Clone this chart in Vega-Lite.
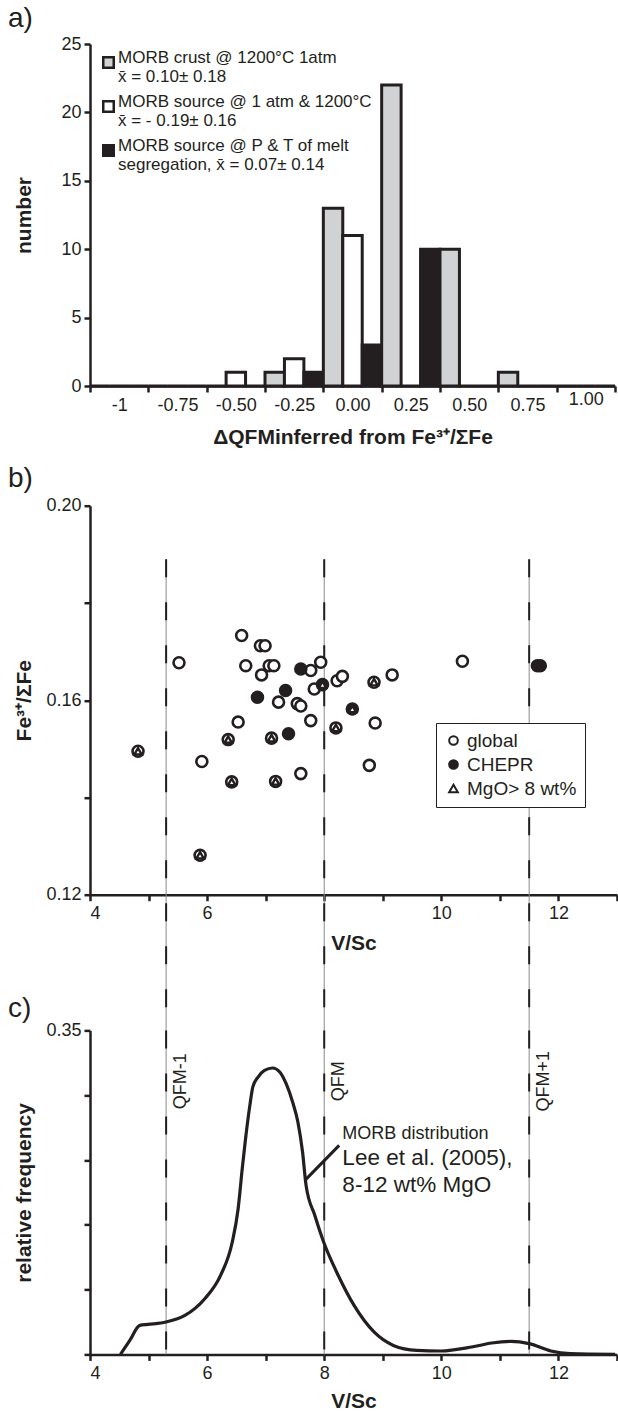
{
  "$schema": "https://vega.github.io/schema/vega-lite/v6.json",
  "autosize": {"type": "pad"},
  "padding": {"left": 8, "top": 5, "right": 0, "bottom": 0},
  "background": "white",
  "config": {
    "view": {"stroke": null},
    "font": "Liberation Sans, Arial, Helvetica, sans-serif",
    "axis": {
      "grid": false,
      "domainColor": "#231f20",
      "domainWidth": 2.5,
      "tickColor": "#231f20",
      "tickWidth": 2.5,
      "tickSize": 6,
      "labelFont": "Liberation Sans, Arial, sans-serif",
      "labelFontSize": 18,
      "labelColor": "#231f20",
      "titleFont": "Liberation Sans, Arial, sans-serif",
      "titleFontSize": 21,
      "titleFontWeight": "bold",
      "titleColor": "#231f20"
    },
    "title": {"font": "Liberation Sans, Arial, sans-serif", "fontSize": 28, "fontWeight": "normal", "color": "#231f20", "anchor": "start", "frame": "group"},
    "legend": {"labelFont": "Liberation Sans, Arial, sans-serif", "labelColor": "#231f20"}
  },
  "spacing": 119.7,
  "bounds": "flush",
  "vconcat": [
    {
      "width": 525,
      "height": 342,
      "title": {"text": "a)", "dx": -82, "offset": 2},
      "data": {"values": [
        {"bin": "-1", "series": "MORB crust @ 1200°C 1atm", "count": 0},
        {"bin": "-1", "series": "MORB source @ 1 atm & 1200°C", "count": 0},
        {"bin": "-1", "series": "MORB source @ P & T of melt", "count": 0},
        {"bin": "-0.75", "series": "MORB crust @ 1200°C 1atm", "count": 0},
        {"bin": "-0.75", "series": "MORB source @ 1 atm & 1200°C", "count": 0},
        {"bin": "-0.75", "series": "MORB source @ P & T of melt", "count": 0},
        {"bin": "-0.50", "series": "MORB crust @ 1200°C 1atm", "count": 0},
        {"bin": "-0.50", "series": "MORB source @ 1 atm & 1200°C", "count": 1},
        {"bin": "-0.50", "series": "MORB source @ P & T of melt", "count": 0},
        {"bin": "-0.25", "series": "MORB crust @ 1200°C 1atm", "count": 1},
        {"bin": "-0.25", "series": "MORB source @ 1 atm & 1200°C", "count": 2},
        {"bin": "-0.25", "series": "MORB source @ P & T of melt", "count": 1},
        {"bin": "0.00", "series": "MORB crust @ 1200°C 1atm", "count": 13},
        {"bin": "0.00", "series": "MORB source @ 1 atm & 1200°C", "count": 11},
        {"bin": "0.00", "series": "MORB source @ P & T of melt", "count": 3},
        {"bin": "0.25", "series": "MORB crust @ 1200°C 1atm", "count": 22},
        {"bin": "0.25", "series": "MORB source @ 1 atm & 1200°C", "count": 0},
        {"bin": "0.25", "series": "MORB source @ P & T of melt", "count": 10},
        {"bin": "0.50", "series": "MORB crust @ 1200°C 1atm", "count": 10},
        {"bin": "0.50", "series": "MORB source @ 1 atm & 1200°C", "count": 0},
        {"bin": "0.50", "series": "MORB source @ P & T of melt", "count": 0},
        {"bin": "0.75", "series": "MORB crust @ 1200°C 1atm", "count": 1},
        {"bin": "0.75", "series": "MORB source @ 1 atm & 1200°C", "count": 0},
        {"bin": "0.75", "series": "MORB source @ P & T of melt", "count": 0},
        {"bin": "1.00", "series": "MORB crust @ 1200°C 1atm", "count": 0},
        {"bin": "1.00", "series": "MORB source @ 1 atm & 1200°C", "count": 0},
        {"bin": "1.00", "series": "MORB source @ P & T of melt", "count": 0}
      ]},
      "mark": {"type": "bar", "stroke": "#231f20", "strokeWidth": 3},
      "encoding": {
        "x": {
          "field": "bin", "type": "nominal",
          "sort": ["-1", "-0.75", "-0.50", "-0.25", "0.00", "0.25", "0.50", "0.75", "1.00"],
          "scale": {"paddingInner": 0, "paddingOuter": 0},
          "axis": {
            "title": "ΔQFMinferred from Fe³⁺/ΣFe",
            "labelAngle": 0,
            "tickBand": "extent",
            "labelPadding": {"condition": {"test": "datum.value === '1.00'", "value": -2}, "value": 4},
            "titlePadding": 12
          }
        },
        "xOffset": {
          "field": "series", "type": "nominal",
          "sort": ["MORB crust @ 1200°C 1atm", "MORB source @ 1 atm & 1200°C", "MORB source @ P & T of melt"],
          "scale": {"paddingInner": 0, "paddingOuter": 0}
        },
        "y": {
          "field": "count", "type": "quantitative",
          "scale": {"domain": [0, 25], "nice": false},
          "axis": {"values": [0, 5, 10, 15, 20, 25], "title": "number", "titleX": -66, "titleBaseline": "middle", "labelPadding": 3}
        },
        "color": {
          "field": "series", "type": "nominal",
          "scale": {
            "domain": ["MORB crust @ 1200°C 1atm", "MORB source @ 1 atm & 1200°C", "MORB source @ P & T of melt"],
            "range": ["#d1d2d4", "#ffffff", "#231f20"]
          },
          "legend": {
            "title": null,
            "orient": "top-left",
            "offset": 10,
            "symbolType": "square",
            "symbolSize": 110,
            "symbolStrokeColor": "#231f20",
            "symbolStrokeWidth": 2.5,
            "labelFontSize": 17,
            "labelLimit": 400,
            "labelBaseline": "alphabetic",
            "labelOffset": 1,
            "rowPadding": 7,
            "labelExpr": "datum.label == 'MORB crust @ 1200°C 1atm' ? ['MORB crust @ 1200°C 1atm', 'x̄ = 0.10± 0.18'] : datum.label == 'MORB source @ 1 atm & 1200°C' ? ['MORB source @ 1 atm & 1200°C', 'x̄ = - 0.19± 0.16'] : ['MORB source @ P & T of melt', 'segregation, x̄ = 0.07± 0.14']"
          }
        }
      }
    },
    {
      "spacing": 135.7,
      "bounds": "flush",
      "vconcat": [
        {
          "width": 527,
          "height": 389,
          "title": {"text": "b)", "dx": -82, "offset": 4},
          "layer": [
            {
              "data": {"values": [
                {"vsc": 5.3, "label": "QFM-1"},
                {"vsc": 8.0, "label": "QFM"},
                {"vsc": 11.5, "label": "QFM+1"}
              ]},
              "layer": [
                {
                  "mark": {"type": "rule", "color": "#8a8a8a", "strokeWidth": 1, "clip": false},
                  "encoding": {
                    "x": {"field": "vsc", "type": "quantitative"},
                    "y": {"datum": 0.189},
                    "y2": {"datum": 0.092}
                  }
                },
                {
                  "mark": {"type": "rule", "color": "#231f20", "strokeWidth": 2, "strokeDash": [18, 25], "clip": false},
                  "encoding": {
                    "x": {"field": "vsc", "type": "quantitative"},
                    "y": {"datum": 0.189},
                    "y2": {"datum": 0.092}
                  }
                }
              ]
            },
            {
              "data": {"values": [
                {"vsc": 5.52, "fe": 0.1677, "group": "global"},
                {"vsc": 6.59, "fe": 0.1733, "group": "global"},
                {"vsc": 6.91, "fe": 0.1712, "group": "global"},
                {"vsc": 6.99, "fe": 0.1712, "group": "global"},
                {"vsc": 6.66, "fe": 0.1671, "group": "global"},
                {"vsc": 7.06, "fe": 0.1671, "group": "global"},
                {"vsc": 7.14, "fe": 0.1671, "group": "global"},
                {"vsc": 6.93, "fe": 0.1652, "group": "global"},
                {"vsc": 7.22, "fe": 0.1596, "group": "global"},
                {"vsc": 6.53, "fe": 0.1555, "group": "global"},
                {"vsc": 7.77, "fe": 0.1661, "group": "global"},
                {"vsc": 7.94, "fe": 0.1678, "group": "global"},
                {"vsc": 7.54, "fe": 0.1593, "group": "global"},
                {"vsc": 7.60, "fe": 0.1588, "group": "global"},
                {"vsc": 7.83, "fe": 0.1623, "group": "global"},
                {"vsc": 8.22, "fe": 0.1640, "group": "global"},
                {"vsc": 8.31, "fe": 0.1649, "group": "global"},
                {"vsc": 9.16, "fe": 0.1652, "group": "global"},
                {"vsc": 10.36, "fe": 0.1680, "group": "global"},
                {"vsc": 7.77, "fe": 0.1558, "group": "global"},
                {"vsc": 8.87, "fe": 0.1553, "group": "global"},
                {"vsc": 5.91, "fe": 0.1474, "group": "global"},
                {"vsc": 7.60, "fe": 0.1449, "group": "global"},
                {"vsc": 8.77, "fe": 0.1466, "group": "global"},
                {"vsc": 6.86, "fe": 0.1606, "group": "CHEPR"},
                {"vsc": 7.34, "fe": 0.1620, "group": "CHEPR"},
                {"vsc": 7.60, "fe": 0.1664, "group": "CHEPR"},
                {"vsc": 7.39, "fe": 0.1531, "group": "CHEPR"},
                {"vsc": 11.64, "fe": 0.1671, "group": "CHEPR"},
                {"vsc": 11.69, "fe": 0.1671, "group": "CHEPR"},
                {"vsc": 7.97, "fe": 0.1632, "group": "CHEPR", "mgo": "MgO> 8 wt%"},
                {"vsc": 8.48, "fe": 0.1582, "group": "CHEPR", "mgo": "MgO> 8 wt%"},
                {"vsc": 8.85, "fe": 0.1637, "group": "global", "mgo": "MgO> 8 wt%"},
                {"vsc": 8.20, "fe": 0.1543, "group": "global", "mgo": "MgO> 8 wt%"},
                {"vsc": 4.82, "fe": 0.1495, "group": "global", "mgo": "MgO> 8 wt%"},
                {"vsc": 6.36, "fe": 0.1519, "group": "global", "mgo": "MgO> 8 wt%"},
                {"vsc": 7.10, "fe": 0.1522, "group": "global", "mgo": "MgO> 8 wt%"},
                {"vsc": 6.42, "fe": 0.1432, "group": "global", "mgo": "MgO> 8 wt%"},
                {"vsc": 7.17, "fe": 0.1433, "group": "global", "mgo": "MgO> 8 wt%"},
                {"vsc": 5.88, "fe": 0.1281, "group": "global", "mgo": "MgO> 8 wt%"}
              ]},
              "layer": [
                {
                  "mark": {"type": "point", "filled": true, "size": 120, "strokeWidth": 2.6, "opacity": 1},
                  "encoding": {
                    "x": {"field": "vsc", "type": "quantitative"},
                    "y": {"field": "fe", "type": "quantitative"},
                    "fill": {"field": "group", "type": "nominal"},
                    "shape": {"field": "group", "type": "nominal"},
                    "stroke": {"field": "group", "type": "nominal"}
                  }
                },
                {
                  "transform": [{"filter": "isValid(datum.mgo)"}],
                  "mark": {"type": "point", "filled": true, "size": 55, "strokeWidth": 2.4, "opacity": 1},
                  "encoding": {
                    "x": {"field": "vsc", "type": "quantitative"},
                    "y": {"field": "fe", "type": "quantitative"},
                    "fill": {"field": "mgo", "type": "nominal"},
                    "shape": {"field": "mgo", "type": "nominal"},
                    "stroke": {"field": "mgo", "type": "nominal"}
                  }
                }
              ]
            }
          ],
          "encoding": {
            "x": {
              "type": "quantitative",
              "scale": {"domain": [4, 13], "nice": false, "zero": false},
              "axis": {
                "title": "V/Sc",
                "values": [4, 5, 6, 7, 8, 9, 10, 11, 12, 13],
                "labelExpr": "indexof([4, 6, 10, 12], datum.value) >= 0 ? datum.label : ''",
                "labelPadding": 4,
                "titlePadding": 10
              }
            },
            "y": {
              "type": "quantitative",
              "scale": {"domain": [0.12, 0.2], "nice": false, "zero": false},
              "axis": {
                "title": "Fe³⁺/ΣFe",
                "values": [0.12, 0.14, 0.16, 0.18, 0.2],
                "labelExpr": "(abs(datum.value - 0.14) < 0.001 || abs(datum.value - 0.18) < 0.001) ? '' : format(datum.value, '.2f')",
                "titleX": -66,
                "titleBaseline": "middle",
                "labelPadding": 3
              }
            },
            "fill": {
              "type": "nominal",
              "scale": {"domain": ["global", "CHEPR", "MgO> 8 wt%"], "range": ["#ffffff", "#231f20", "#ffffff"]},
              "legend": {
                "title": null,
                "orient": "none",
                "legendX": 346,
                "legendY": 679,
                "strokeColor": "#231f20",
                "fillColor": "#ffffff",
                "padding": 8,
                "symbolSize": 75,
                "symbolStrokeWidth": 2,
                "labelFontSize": 19,
                "labelLimit": 300,
                "labelOffset": 4,
                "rowPadding": 4
              }
            },
            "shape": {
              "type": "nominal",
              "scale": {"domain": ["global", "CHEPR", "MgO> 8 wt%"], "range": ["circle", "circle", "triangle-up"]},
              "legend": {
                "title": null,
                "orient": "none",
                "legendX": 346,
                "legendY": 679,
                "strokeColor": "#231f20",
                "fillColor": "#ffffff",
                "padding": 8,
                "symbolSize": 75,
                "symbolStrokeWidth": 2,
                "labelFontSize": 19,
                "labelLimit": 300,
                "labelOffset": 4,
                "rowPadding": 4
              }
            },
            "stroke": {
              "type": "nominal",
              "scale": {"domain": ["global", "CHEPR", "MgO> 8 wt%"], "range": ["#231f20", "#231f20", "#231f20"]},
              "legend": {
                "title": null,
                "orient": "none",
                "legendX": 346,
                "legendY": 679,
                "strokeColor": "#231f20",
                "fillColor": "#ffffff",
                "padding": 8,
                "symbolSize": 75,
                "symbolStrokeWidth": 2,
                "labelFontSize": 19,
                "labelLimit": 300,
                "labelOffset": 4,
                "rowPadding": 4
              }
            }
          }
        },
        {
          "width": 527,
          "height": 324,
          "title": {"text": "c)", "dx": -82, "offset": -2},
          "layer": [
            {
              "data": {"values": [
                {"vsc": 5.3, "label": "QFM-1"},
                {"vsc": 8.0, "label": "QFM"},
                {"vsc": 11.5, "label": "QFM+1"}
              ]},
              "layer": [
                {
                  "mark": {"type": "rule", "color": "#8a8a8a", "strokeWidth": 1},
                  "encoding": {
                    "x": {"field": "vsc", "type": "quantitative"},
                    "y": {"datum": 0},
                    "y2": {"datum": 0.35}
                  }
                },
                {
                  "mark": {"type": "rule", "color": "#231f20", "strokeWidth": 2, "strokeDash": [18, 25]},
                  "encoding": {
                    "x": {"field": "vsc", "type": "quantitative"},
                    "y": {"datum": 0.35},
                    "y2": {"datum": 0}
                  }
                },
                {
                  "mark": {"type": "text", "angle": 270, "align": "center", "baseline": "top", "dy": 6, "fontSize": 18, "color": "#231f20"},
                  "encoding": {
                    "x": {"field": "vsc", "type": "quantitative"},
                    "y": {"datum": 0.295},
                    "text": {"field": "label"}
                  }
                }
              ]
            },
            {
              "data": {"values": [
                {"vsc": 4.52, "freq": 0},
                {"vsc": 4.68, "freq": 0.0151},
                {"vsc": 4.85, "freq": 0.0313},
                {"vsc": 4.99, "freq": 0.0324},
                {"vsc": 5.3, "freq": 0.035},
                {"vsc": 5.62, "freq": 0.0421},
                {"vsc": 5.96, "freq": 0.0602},
                {"vsc": 6.23, "freq": 0.0853},
                {"vsc": 6.43, "freq": 0.1214},
                {"vsc": 6.53, "freq": 0.1574},
                {"vsc": 6.6, "freq": 0.2006},
                {"vsc": 6.65, "freq": 0.2294},
                {"vsc": 6.73, "freq": 0.269},
                {"vsc": 6.78, "freq": 0.2888},
                {"vsc": 6.87, "freq": 0.2996},
                {"vsc": 6.98, "freq": 0.3068},
                {"vsc": 7.12, "freq": 0.3094},
                {"vsc": 7.24, "freq": 0.3051},
                {"vsc": 7.35, "freq": 0.2924},
                {"vsc": 7.46, "freq": 0.2726},
                {"vsc": 7.55, "freq": 0.251},
                {"vsc": 7.63, "freq": 0.2186},
                {"vsc": 7.69, "freq": 0.1826},
                {"vsc": 7.84, "freq": 0.15},
                {"vsc": 7.99, "freq": 0.1214},
                {"vsc": 8.24, "freq": 0.0853},
                {"vsc": 8.51, "freq": 0.0529},
                {"vsc": 8.85, "freq": 0.0242},
                {"vsc": 9.18, "freq": 0.0097},
                {"vsc": 9.58, "freq": 0.0043},
                {"vsc": 9.99, "freq": 0.0037},
                {"vsc": 10.52, "freq": 0.008},
                {"vsc": 10.86, "freq": 0.0123},
                {"vsc": 11.19, "freq": 0.014},
                {"vsc": 11.5, "freq": 0.0116},
                {"vsc": 11.87, "freq": 0.0037},
                {"vsc": 12.2, "freq": 0.0008},
                {"vsc": 12.97, "freq": 0}
              ]},
              "mark": {"type": "line", "interpolate": "monotone", "color": "#231f20", "strokeWidth": 3.2},
              "encoding": {
                "x": {"field": "vsc", "type": "quantitative"},
                "y": {"field": "freq", "type": "quantitative"}
              }
            },
            {
              "data": {"values": [{"note": "MORB distribution"}]},
              "layer": [
                {
                  "mark": {"type": "rule", "color": "#231f20", "strokeWidth": 3},
                  "encoding": {
                    "x": {"datum": 8.255},
                    "y": {"datum": 0.2258},
                    "x2": {"datum": 7.67},
                    "y2": {"datum": 0.188}
                  }
                },
                {
                  "mark": {"type": "text", "align": "left", "baseline": "middle", "fontSize": 18, "color": "#231f20"},
                  "encoding": {
                    "x": {"datum": 8.31},
                    "y": {"datum": 0.2384},
                    "text": {"field": "note"}
                  }
                },
                {
                  "mark": {"type": "text", "align": "left", "baseline": "middle", "fontSize": 22.5, "color": "#231f20"},
                  "encoding": {
                    "x": {"datum": 8.31},
                    "y": {"datum": 0.2125},
                    "text": {"value": "Lee et al. (2005),"}
                  }
                },
                {
                  "mark": {"type": "text", "align": "left", "baseline": "middle", "fontSize": 22.5, "color": "#231f20"},
                  "encoding": {
                    "x": {"datum": 8.31},
                    "y": {"datum": 0.1826},
                    "text": {"value": "8-12 wt% MgO"}
                  }
                }
              ]
            }
          ],
          "encoding": {
            "x": {
              "type": "quantitative",
              "scale": {"domain": [4, 13], "nice": false, "zero": false},
              "axis": {
                "title": "V/Sc",
                "values": [4, 5, 6, 7, 8, 9, 10, 11, 12, 13],
                "labelExpr": "indexof([4, 6, 8, 10, 12], datum.value) >= 0 ? datum.label : ''",
                "labelPadding": 4,
                "titlePadding": 8
              }
            },
            "y": {
              "type": "quantitative",
              "scale": {"domain": [0, 0.35], "nice": false},
              "axis": {
                "title": "relative frequency",
                "values": [0, 0.07, 0.14, 0.21, 0.28, 0.35],
                "labelExpr": "datum.value > 0.34 ? '0.35' : ''",
                "titleX": -66,
                "titleBaseline": "middle",
                "labelPadding": 3
              }
            }
          }
        }
      ]
    }
  ]
}
